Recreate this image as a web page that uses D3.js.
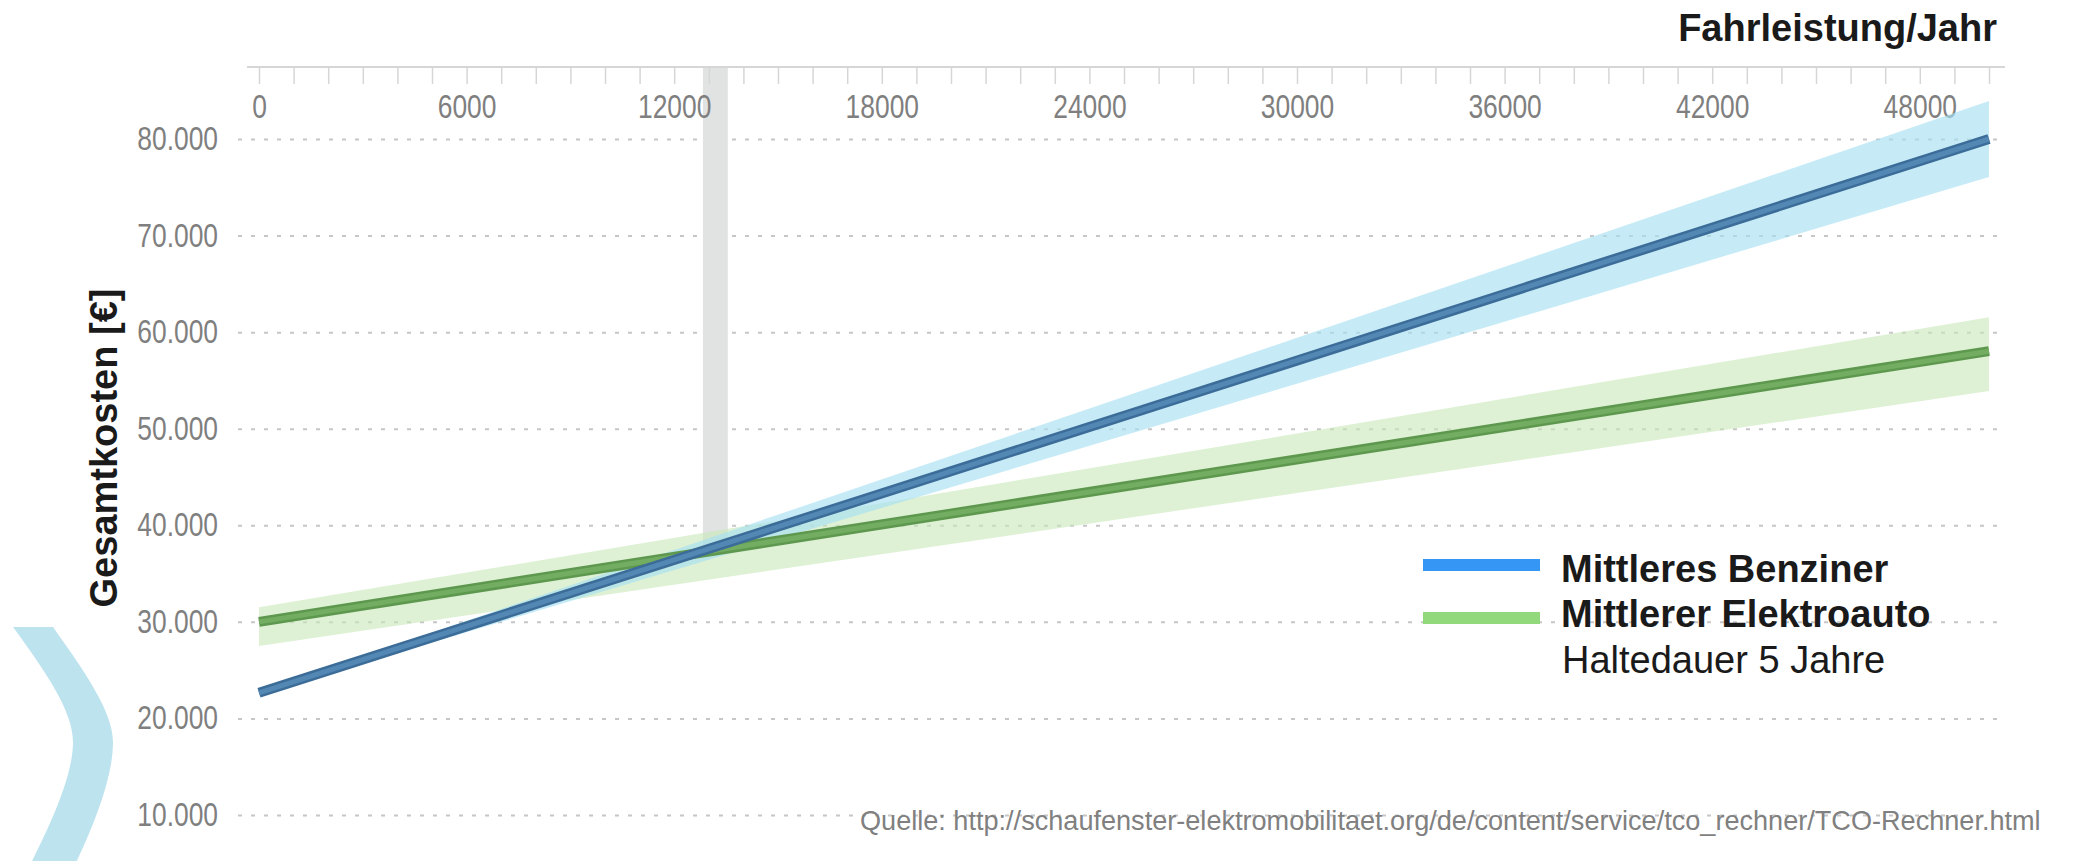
<!DOCTYPE html>
<html lang="de">
<head>
<meta charset="utf-8">
<title>Gesamtkosten nach Fahrleistung</title>
<script src="https://cdn.jsdelivr.net/npm/d3@7"></script>
<style>
    html, body { margin: 0; padding: 0; background: #fff; }
    svg { display: block; }
    .tick-label { font-family: "Liberation Sans", Arial, sans-serif; }
    .bold { font-family: "Liberation Sans", Arial, sans-serif; font-weight: bold; }
</style>
</head>
<body>
<svg id="chart"></svg>
<script>
// Data
const kmEnds = [0, 50000];
const benzinerCost = [22650, 80000];
const elektroCost = [30000, 58030];

const bandKm = [0, 25000, 50000];
const benzinerLow = [22500, 49300, 76070];
const benzinerHigh = [22800, 53300, 83930];
const elektroLow = [27500, 40700, 53900];
const elektroHigh = [31500, 46500, 61550];

// break-even range (km/year) and the cost where the marker ends
const breakEvenKm = [12830, 13550];
const breakEvenCost = 38000;

const xLabelTicks = [0, 6000, 12000, 18000, 24000, 30000, 36000, 42000, 48000];
const yTicks = [10000, 20000, 30000, 40000, 50000, 60000, 70000, 80000];

const legendNames = ['Mittleres Benziner', 'Mittlerer Elektroauto'];
const legendColors = ['#3596f5', '#92d97b'];

document.addEventListener('DOMContentLoaded', function() {
    const width = 2074;
    const height = 861;
    const narrow = 0.8; // tick labels are a condensed face

    const svg = d3.select('#chart')
        .attr('width', width)
        .attr('height', height);

    svg.append('rect')
        .attr('width', width)
        .attr('height', height)
        .attr('fill', '#fff');

    const x = d3.scaleLinear().domain([0, 50000]).range([259, 1989]);
    const y = d3.scaleLinear().domain([10000, 80000]).range([815, 139]);

    const de = d3.formatLocale({ decimal: ',', thousands: '.', grouping: [3], currency: ['', ' €'] });
    const fmt = de.format(',.0f');

    const axisY = 67;
    const gridLeft = 238;
    const gridRight = 2003;

    // Decorative arc bottom left
    svg.append('path')
        .attr('d', 'M13,627 L53,627 C85,672 113,712 113,742 C113,780 92,830 70,875 L25,875 C48,830 73,778 73,742 C73,712 48,675 13,627 Z')
        .attr('fill', '#bde3ef');

    // Horizontal dashed gridlines with labels
    const yAxis = svg.append('g')
        .attr('transform', `translate(${gridLeft},0)`)
        .call(d3.axisLeft(y)
            .tickValues(yTicks)
            .tickSize(-(gridRight - gridLeft))
            .tickPadding(20)
            .tickFormat(fmt));
    yAxis.select('.domain').remove();
    yAxis.selectAll('.tick line')
        .attr('stroke', '#c6c6c6')
        .attr('stroke-width', 2)
        .attr('stroke-dasharray', '4,9');
    yAxis.selectAll('.tick text')
        .attr('class', 'tick-label')
        .attr('x', -20 / narrow)
        .attr('transform', `scale(${narrow},1)`)
        .attr('fill', '#7f7f7f')
        .style('font-size', '33px');

    // Break-even marker
    svg.append('rect')
        .attr('x', x(breakEvenKm[0]))
        .attr('width', x(breakEvenKm[1]) - x(breakEvenKm[0]))
        .attr('y', axisY)
        .attr('height', y(breakEvenCost) - axisY)
        .attr('fill', '#e1e3e3');

    // Top axis: minor ticks every 1000 km, labels every 6000 km
    const xAxis = svg.append('g')
        .attr('transform', `translate(0,${axisY})`)
        .call(d3.axisBottom(x)
            .tickValues(x.ticks(50))
            .tickSize(17)
            .tickPadding(11)
            .tickFormat(d => xLabelTicks.includes(d) ? d : ''));
    xAxis.select('.domain').remove();
    xAxis.append('line')
        .attr('x1', 247)
        .attr('x2', 2005)
        .attr('stroke', '#d6d6d6')
        .attr('stroke-width', 2);
    xAxis.selectAll('.tick line')
        .attr('stroke', '#d6d6d6')
        .attr('stroke-width', 1.5);
    xAxis.selectAll('.tick text')
        .attr('class', 'tick-label')
        .attr('transform', `scale(${narrow},1)`)
        .attr('fill', '#7f7f7f')
        .style('font-size', '33px');

    // Uncertainty bands
    const area = d3.area()
        .x(d => x(d.km))
        .y0(d => y(d.low))
        .y1(d => y(d.high));

    const elektroBand = bandKm.map((km, i) => ({ km: km, low: elektroLow[i], high: elektroHigh[i] }));
    const benzinerBand = bandKm.map((km, i) => ({ km: km, low: benzinerLow[i], high: benzinerHigh[i] }));

    svg.append('path')
        .datum(elektroBand)
        .attr('d', area)
        .attr('fill', '#c8e8b9')
        .attr('opacity', 0.6);

    svg.append('path')
        .datum(benzinerBand)
        .attr('d', area)
        .attr('fill', '#a8e0f2')
        .attr('opacity', 0.65);

    // Cost lines
    const line = d3.line()
        .x(d => x(d.km))
        .y(d => y(d.cost));

    const series = [
        { values: elektroCost, outer: '#5e984f', inner: '#72ad62' },
        { values: benzinerCost, outer: '#3c6c98', inner: '#5387b4' }
    ];

    series.forEach(s => {
        const pts = kmEnds.map((km, i) => ({ km: km, cost: s.values[i] }));
        svg.append('path')
            .datum(pts)
            .attr('d', line)
            .attr('fill', 'none')
            .attr('stroke', s.outer)
            .attr('stroke-width', 10);
        svg.append('path')
            .datum(pts)
            .attr('d', line)
            .attr('fill', 'none')
            .attr('stroke', s.inner)
            .attr('stroke-width', 5);
    });

    // Titles
    svg.append('text')
        .attr('class', 'bold')
        .attr('x', 1997)
        .attr('y', 41)
        .attr('text-anchor', 'end')
        .attr('fill', '#1a1a1a')
        .style('font-size', '38px')
        .text('Fahrleistung/Jahr');

    svg.append('text')
        .attr('class', 'bold')
        .attr('transform', 'translate(117,448) rotate(-90)')
        .attr('text-anchor', 'middle')
        .attr('fill', '#1a1a1a')
        .style('font-size', '38px')
        .text('Gesamtkosten [€]');

    // Legend
    const legend = svg.append('g');
    legendNames.forEach((name, i) => {
        legend.append('rect')
            .attr('x', 1423)
            .attr('y', 559 + i * 53)
            .attr('width', 117)
            .attr('height', 12)
            .attr('fill', legendColors[i]);
        legend.append('text')
            .attr('class', 'bold')
            .attr('x', 1561)
            .attr('y', 582 + i * 45)
            .attr('fill', '#1a1a1a')
            .style('font-size', '38px')
            .text(name);
    });

    legend.append('text')
        .attr('x', 1562)
        .attr('y', 673)
        .attr('fill', '#1a1a1a')
        .style('font-family', '"Liberation Sans", Arial, sans-serif')
        .style('font-size', '38px')
        .text('Haltedauer 5 Jahre');

    // Source
    svg.append('text')
        .attr('x', 860)
        .attr('y', 830)
        .attr('fill', '#808080')
        .style('font-family', '"Liberation Sans", Arial, sans-serif')
        .style('font-size', '27.1px')
        .text('Quelle: http://schaufenster-elektromobilitaet.org/de/content/service/tco_rechner/TCO-Rechner.html');
});
</script>
</body>
</html>
